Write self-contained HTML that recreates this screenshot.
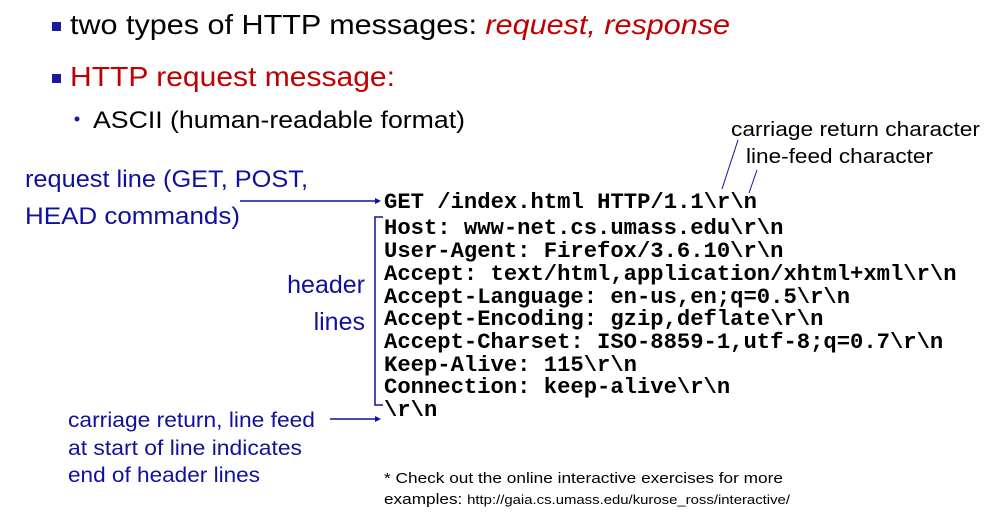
<!DOCTYPE html>
<html><head><meta charset="utf-8"><style>
html,body{margin:0;padding:0;background:#fff;width:1003px;height:521px;overflow:hidden}
svg{display:block}
.s{font-family:"Liberation Sans",sans-serif}
.m{font-family:"Liberation Mono",monospace;font-weight:bold;font-size:22.2px;fill:#000}
.b{fill:#1010a0}
</style></head><body>
<svg width="1003" height="521" xmlns="http://www.w3.org/2000/svg">
<rect x="52" y="22" width="9" height="9" fill="#1a1aa0"/>
<text class="s" x="70" y="34" font-size="28" textLength="660" lengthAdjust="spacingAndGlyphs">two types of HTTP messages: <tspan fill="#c00000" font-style="italic">request, response</tspan></text>
<rect x="52" y="74" width="9" height="9" fill="#1a1aa0"/>
<text class="s" x="70" y="86" font-size="28" fill="#c00000" textLength="325" lengthAdjust="spacingAndGlyphs">HTTP request message:</text>
<circle cx="77" cy="119" r="2.5" fill="#1a1aa0"/>
<text class="s" x="93" y="128" font-size="24" textLength="372" lengthAdjust="spacingAndGlyphs">ASCII (human-readable format)</text>
<text class="s" x="731" y="136" font-size="20" textLength="249" lengthAdjust="spacingAndGlyphs">carriage return character</text>
<text class="s" x="746" y="163" font-size="20" textLength="187" lengthAdjust="spacingAndGlyphs">line-feed character</text>
<line x1="738" y1="140" x2="722" y2="189" stroke="#1010a0" stroke-width="1"/>
<line x1="757" y1="170" x2="749" y2="193" stroke="#1010a0" stroke-width="1"/>
<text class="s b" x="25" y="187" font-size="24" textLength="283" lengthAdjust="spacingAndGlyphs">request line (GET, POST,</text>
<text class="s b" x="25" y="224" font-size="24" textLength="215" lengthAdjust="spacingAndGlyphs">HEAD commands)</text>
<line x1="240" y1="201" x2="376" y2="201" stroke="#1010a0" stroke-width="1.5"/>
<polygon points="381,201 375,198 375,204" fill="#1010a0"/>
<text class="s b" x="365" y="293" font-size="25" text-anchor="end">header</text>
<text class="s b" x="365" y="330" font-size="25" text-anchor="end">lines</text>
<polyline points="383,217 375,217 375,405 383,405" fill="none" stroke="#1010a0" stroke-width="1.5"/>
<text class="s b" x="68" y="427" font-size="21" textLength="247" lengthAdjust="spacingAndGlyphs">carriage return, line feed</text>
<text class="s b" x="68" y="455" font-size="21" textLength="234" lengthAdjust="spacingAndGlyphs">at start of line indicates</text>
<text class="s b" x="68" y="482" font-size="21" textLength="192" lengthAdjust="spacingAndGlyphs">end of header lines</text>
<line x1="330" y1="419" x2="376" y2="419" stroke="#1010a0" stroke-width="1.5"/>
<polygon points="381,419 375,416 375,422" fill="#1010a0"/>
<g class="m">
<text x="384" y="208" textLength="373" lengthAdjust="spacingAndGlyphs">GET /index.html HTTP/1.1\r\n</text>
<text x="384" y="234">Host: www-net.cs.umass.edu\r\n</text>
<text x="384" y="257">User-Agent: Firefox/3.6.10\r\n</text>
<text x="384" y="280">Accept: text/html,application/xhtml+xml\r\n</text>
<text x="384" y="303">Accept-Language: en-us,en;q=0.5\r\n</text>
<text x="384" y="325">Accept-Encoding: gzip,deflate\r\n</text>
<text x="384" y="348">Accept-Charset: ISO-8859-1,utf-8;q=0.7\r\n</text>
<text x="384" y="371">Keep-Alive: 115\r\n</text>
<text x="384" y="393">Connection: keep-alive\r\n</text>
<text x="384" y="416">\r\n</text>
</g>
<text class="s" x="384" y="483" font-size="15" textLength="399" lengthAdjust="spacingAndGlyphs">* Check out the online interactive exercises for more</text>
<text class="s" x="384" y="504" font-size="15" textLength="406" lengthAdjust="spacingAndGlyphs">examples: <tspan font-size="13">http://gaia.cs.umass.edu/kurose_ross/interactive/</tspan></text>
</svg>
</body></html>
